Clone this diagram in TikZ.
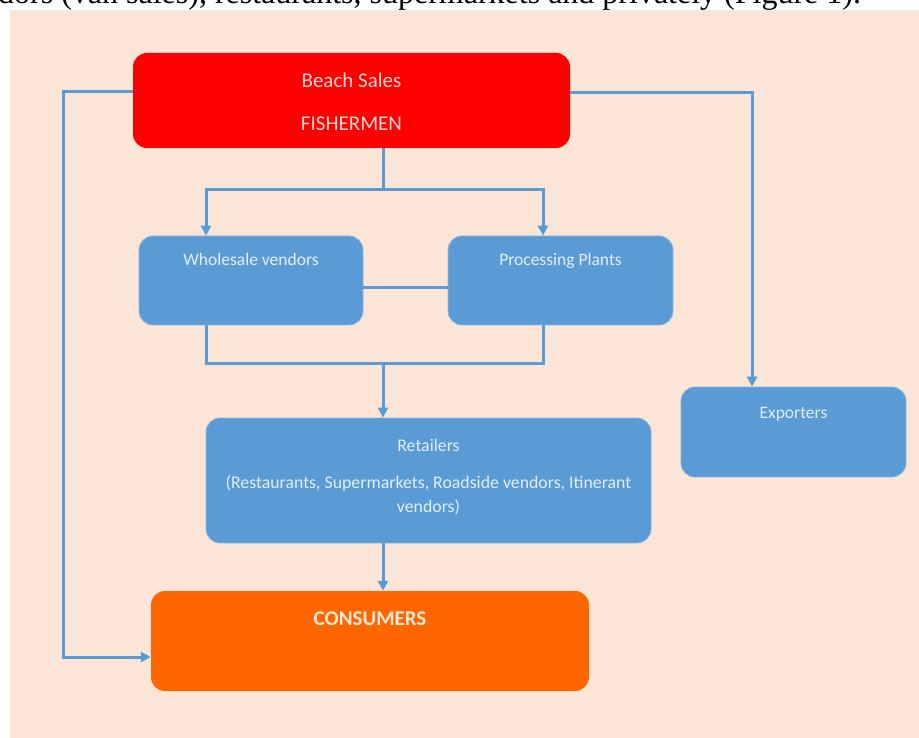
\documentclass[tikz,border=0pt]{standalone}
\usepackage{fontspec}
\setmainfont{Carlito}
\newfontfamily\docserif{Liberation Serif}
\usetikzlibrary{arrows.meta}
\definecolor{peach}{HTML}{FBE5D6}
\definecolor{boxblue}{HTML}{5B9BD5}
\definecolor{boxedge}{HTML}{8DB7E2}
\definecolor{lineblue}{HTML}{5B9BD5}
\definecolor{fishred}{HTML}{FF0000}
\definecolor{consorange}{HTML}{FF6600}
\definecolor{txtred}{HTML}{F9D9D6}
\definecolor{txtblue}{HTML}{E2EEF9}
\definecolor{txtorange}{HTML}{FDE9D6}
\begin{document}
\begin{tikzpicture}[x=1pt,y=-1pt,
  box/.style={rounded corners=14pt, inner sep=0pt},
  bluebox/.style={box, fill=boxblue, draw=boxedge, line width=0.8pt},
  conn/.style={draw=lineblue, line width=3pt},
  arr/.style={conn, -{Triangle[length=10pt,width=10pt]}},
  lbl/.style={anchor=base, inner sep=0pt, font=\fontsize{17.5}{21}\selectfont, text=txtblue},
  redlbl/.style={anchor=base, inner sep=0pt, font=\fontsize{21}{25}\selectfont, text=txtred}]
\clip (0,0) rectangle (919,738);
\fill[white] (0,0) rectangle (919,738);
\fill[peach] (10,10) rectangle (919,738);
\node[anchor=base west, inner sep=0pt, font=\docserif\fontsize{32}{37}\selectfont] (caption) at (-2,4) {dors (van sales), restaurants, supermarkets and privately (Figure 1).};

% boxes
\node[box, fill=fishred, minimum width=437pt, minimum height=95pt] (red) at (351.5,100.5) {};
\node[bluebox, minimum width=224pt, minimum height=89pt] (ws) at (251,280.5) {};
\node[bluebox, minimum width=225pt, minimum height=89pt] (pp) at (560.5,280.5) {};
\node[bluebox, minimum width=225pt, minimum height=90pt] (exp) at (793.5,432) {};
\node[bluebox, minimum width=445pt, minimum height=125pt] (ret) at (428.5,480.5) {};
\node[box, fill=consorange, minimum width=438pt, minimum height=100pt] (cons) at (370,641) {};

% texts
\node[redlbl] (t1) at (351.5,88) {Beach Sales};
\node[redlbl] (t2) at (351.5,131) {FISHERMEN};
\node[lbl] (t3) at (251,266) {Wholesale vendors};
\node[lbl] (t4) at (560.5,266) {Processing Plants};
\node[lbl] (t5) at (793.5,418) {Exporters};
\node[lbl, font=\fontsize{17.8}{21}\selectfont] (t6) at (428.5,451) {Retailers};
\node[lbl, font=\fontsize{17.8}{21}\selectfont] (t7) at (428.5,488) {(Restaurants, Supermarkets, Roadside vendors, Itinerant};
\node[lbl, font=\fontsize{17.8}{21}\selectfont] (t8) at (428.5,512) {vendors)};
\node[anchor=base, inner sep=0pt, font=\bfseries\fontsize{21}{25}\selectfont, text=txtorange] (t9) at (370,625) {CONSUMERS};

% junctions
\coordinate (jtop) at (383,190);
\coordinate (jwl) at (206,190);
\coordinate (jpr) at (543,190);
\coordinate (jmid) at (405,288);
\coordinate (jbot) at (383,363);
\coordinate (jl) at (63,92);
\coordinate (jlb) at (63,657);
\coordinate (jr) at (752,93);

% connectors
\draw[conn] (red.south -| jtop) -- (jtop);
\draw[arr] (jtop) -| (jwl |- ws.north);
\draw[arr] (jtop) -| (jpr |- pp.north);
\draw[conn] (ws.east |- jmid) -- (pp.west |- jmid);
\draw[conn] (ws.south -| jwl) |- (jbot) -| (pp.south -| jpr);
\draw[arr] (jbot) -- (ret.north -| jbot);
\draw[arr] (ret.south -| jbot) -- (cons.north -| jbot);
\draw[arr] (red.west |- jl) -- (jl) -- (jlb) -- (cons.west |- jlb);
\draw[arr] (red.east |- jr) -- (jr) -- (exp.north -| jr);
\end{tikzpicture}
\end{document}
